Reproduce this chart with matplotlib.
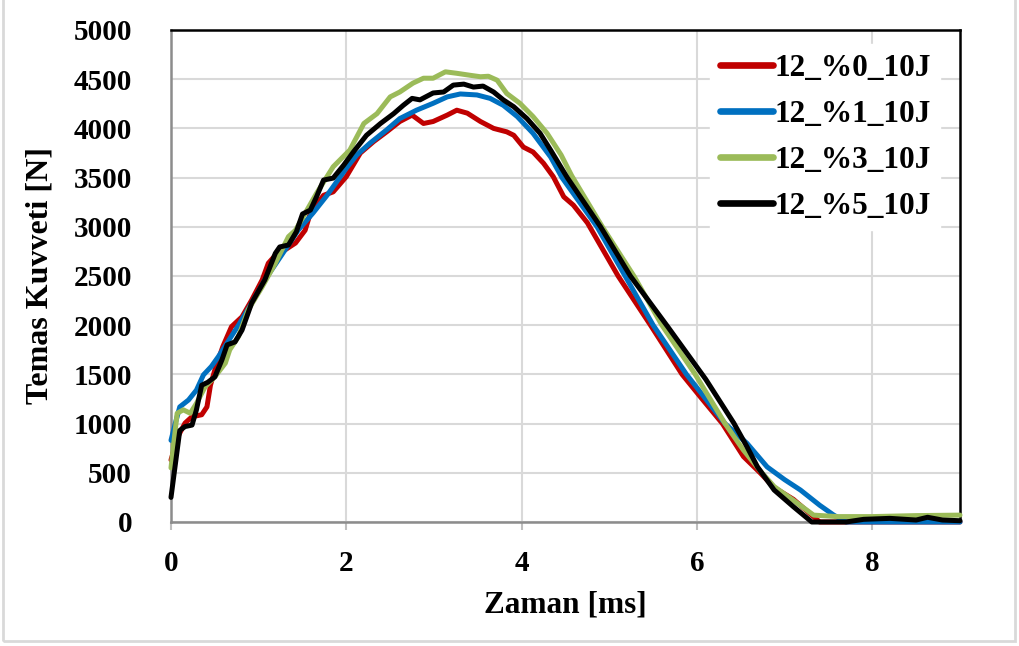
import matplotlib
matplotlib.use("Agg")
import matplotlib.pyplot as plt
from matplotlib.patches import Rectangle

plt.rcParams['font.family'] = ['Liberation Serif', 'DejaVu Serif']
plt.rcParams['font.weight'] = 'bold'

# Series (time [ms], force [N])
labels = ['12_%0_10J', '12_%1_10J', '12_%3_10J', '12_%5_10J']
colors = ['#C00000', '#0070C0', '#9BBB59', '#000000']

t_0 = [0, 0.08, 0.16, 0.24, 0.35, 0.41, 0.45, 0.5, 0.59, 0.69, 0.81, 0.92, 1.04, 1.11,
       1.19, 1.3, 1.42, 1.53, 1.59, 1.74, 1.85, 2.0, 2.16, 2.31, 2.46, 2.61, 2.75, 2.88,
       2.99, 3.15, 3.26, 3.38, 3.53, 3.68, 3.83, 3.91, 4.02, 4.13, 4.25, 4.36, 4.48, 4.59,
       4.75, 5.1, 5.47, 5.83, 6.04, 6.29, 6.53, 6.72, 6.88, 7.1, 7.4, 8.0, 9.0]
f_0 = [630, 870, 1005, 1070, 1090, 1170, 1390, 1545, 1780, 1985, 2085, 2255, 2460, 2630,
       2710, 2765, 2835, 2965, 3140, 3320, 3355, 3510, 3750, 3865, 3965, 4070, 4135, 4050,
       4070, 4135, 4185, 4155, 4070, 4000, 3965, 3930, 3810, 3760, 3645, 3510, 3305, 3220,
       3040, 2500, 2000, 1500, 1270, 1000, 665, 500, 350, 230, 0, 0, 0]

t_1 = [0, 0.05, 0.1, 0.2, 0.29, 0.37, 0.46, 0.54, 0.64, 0.77, 0.92, 1.07, 1.26, 1.45,
       1.62, 1.78, 2.0, 2.12, 2.27, 2.46, 2.61, 2.8, 2.99, 3.15, 3.3, 3.49, 3.64, 3.79,
       3.95, 4.13, 4.33, 4.46, 4.86, 5.18, 5.5, 5.88, 6.32, 6.57, 6.8, 7.0, 7.18, 7.4,
       7.56, 7.7, 8.0, 9.0]
f_1 = [830, 1005, 1170, 1240, 1340, 1495, 1580, 1680, 1820, 2000, 2225, 2460, 2710, 2965,
       3140, 3320, 3595, 3730, 3850, 3985, 4100, 4185, 4255, 4320, 4350, 4340, 4305, 4235,
       4120, 3950, 3710, 3500, 3000, 2500, 2000, 1500, 1000, 800, 560, 430, 325, 170,
       70, 0, 0, 0]

t_3 = [0, 0.07, 0.14, 0.22, 0.29, 0.39, 0.5, 0.62, 0.67, 0.77, 0.88, 1.04, 1.19, 1.34,
       1.42, 1.66, 1.85, 2.04, 2.2, 2.35, 2.5, 2.61, 2.76, 2.88, 2.99, 3.13, 3.26, 3.41,
       3.53, 3.62, 3.72, 3.83, 3.98, 4.13, 4.29, 4.45, 4.57, 4.92, 5.28, 5.6, 5.98, 6.32,
       6.53, 6.74, 6.88, 7.1, 7.33, 7.6, 8.0, 8.5, 9.0]
f_3 = [550, 1105, 1140, 1105, 1205, 1375, 1475, 1615, 1750, 1885, 2155, 2390, 2630, 2900,
       2965, 3340, 3610, 3780, 4050, 4150, 4320, 4370, 4460, 4510, 4510, 4575, 4560, 4540,
       4525, 4530, 4490, 4355, 4255, 4120, 3950, 3730, 3520, 3000, 2500, 2000, 1500, 1000,
       730, 500, 360, 220, 70, 55, 55, 65, 70]

t_5 = [0, 0.05, 0.1, 0.16, 0.24, 0.29, 0.35, 0.42, 0.5, 0.58, 0.64, 0.73, 0.81, 0.92,
       1.07, 1.19, 1.24, 1.34, 1.43, 1.5, 1.59, 1.66, 1.74, 1.85, 1.97, 2.08, 2.23, 2.39,
       2.54, 2.65, 2.75, 2.84, 2.99, 3.11, 3.22, 3.34, 3.45, 3.56, 3.68, 3.79, 3.91, 4.06,
       4.21, 4.33, 4.52, 4.9, 5.24, 5.67, 6.1, 6.42, 6.57, 6.69, 6.88, 7.1, 7.31, 7.7,
       7.9, 8.2, 8.5, 8.63, 8.8, 9.0]
f_5 = [250, 590, 930, 970, 985, 1140, 1390, 1420, 1475, 1645, 1800, 1830, 1950, 2225,
       2460, 2730, 2795, 2815, 2950, 3130, 3170, 3305, 3475, 3495, 3627, 3760, 3930, 4050,
       4150, 4235, 4305, 4290, 4360, 4370, 4440, 4450, 4420, 4430, 4370, 4290, 4220, 4100,
       3950, 3780, 3500, 3000, 2500, 1980, 1450, 1005, 765, 560, 325, 155, 0, 0,
       27, 37, 20, 48, 20, 13]

series_t = [t_0, t_1, t_3, t_5]
series_f = [f_0, f_1, f_3, f_5]

x_ticks = [0, 2, 4, 6, 8]
y_ticks = list(range(0, 5001, 500))

fig = plt.figure(figsize=(10.19, 6.46), dpi=100)
ax = fig.add_axes([171 / 1019, 1 - 522 / 646, (960 - 171) / 1019, (522 - 30) / 646])

for t, f, c, lab in zip(series_t, series_f, colors, labels):
    ax.plot(t, f, color=c, lw=3.6, label=lab, solid_capstyle='round',
            solid_joinstyle='round', clip_on=False, zorder=3)

ax.set_xlim(0, 9)
ax.set_ylim(0, 5000)
ax.set_xticks(x_ticks)
ax.set_yticks(y_ticks)
ax.grid(True, color='#D9D9D9', lw=1.5, zorder=0)
ax.set_axisbelow(True)

for side in ['top', 'right']:
    ax.spines[side].set_color('black')
    ax.spines[side].set_linewidth(1.8)
for side in ['left', 'bottom']:
    ax.spines[side].set_color('#8C8C8C')
    ax.spines[side].set_linewidth(1.8)

ax.tick_params(axis='x', length=6, width=1.5, color='#BFBFBF', pad=14, labelsize=21)
ax.tick_params(axis='y', length=0, pad=28, labelsize=21)
for lbl in ax.get_xticklabels() + ax.get_yticklabels():
    lbl.set_fontweight('bold')

ax.set_xlabel('Zaman [ms]', fontsize=22.5, fontweight='bold', labelpad=10)
ax.set_ylabel('Temas Kuvveti [N]', fontsize=23, fontweight='bold', labelpad=14)

leg = ax.legend(loc='upper right', bbox_to_anchor=(0.995, 1.003), frameon=True,
                fancybox=False, edgecolor='white', framealpha=1.0,
                prop={'size': 22.5, 'weight': 'bold'}, handlelength=1.7,
                handletextpad=0.05, labelspacing=0.55, borderpad=0.3)
for line in leg.get_lines():
    line.set_linewidth(4.8)

# light outer frame of the figure
fig.patches.append(Rectangle((3 / 1019, 5 / 646), 1012 / 1019, 1.0, transform=fig.transFigure,
                             fill=False, edgecolor='#D9D9D9', lw=2))

fig.savefig('out.png', dpi=100)
